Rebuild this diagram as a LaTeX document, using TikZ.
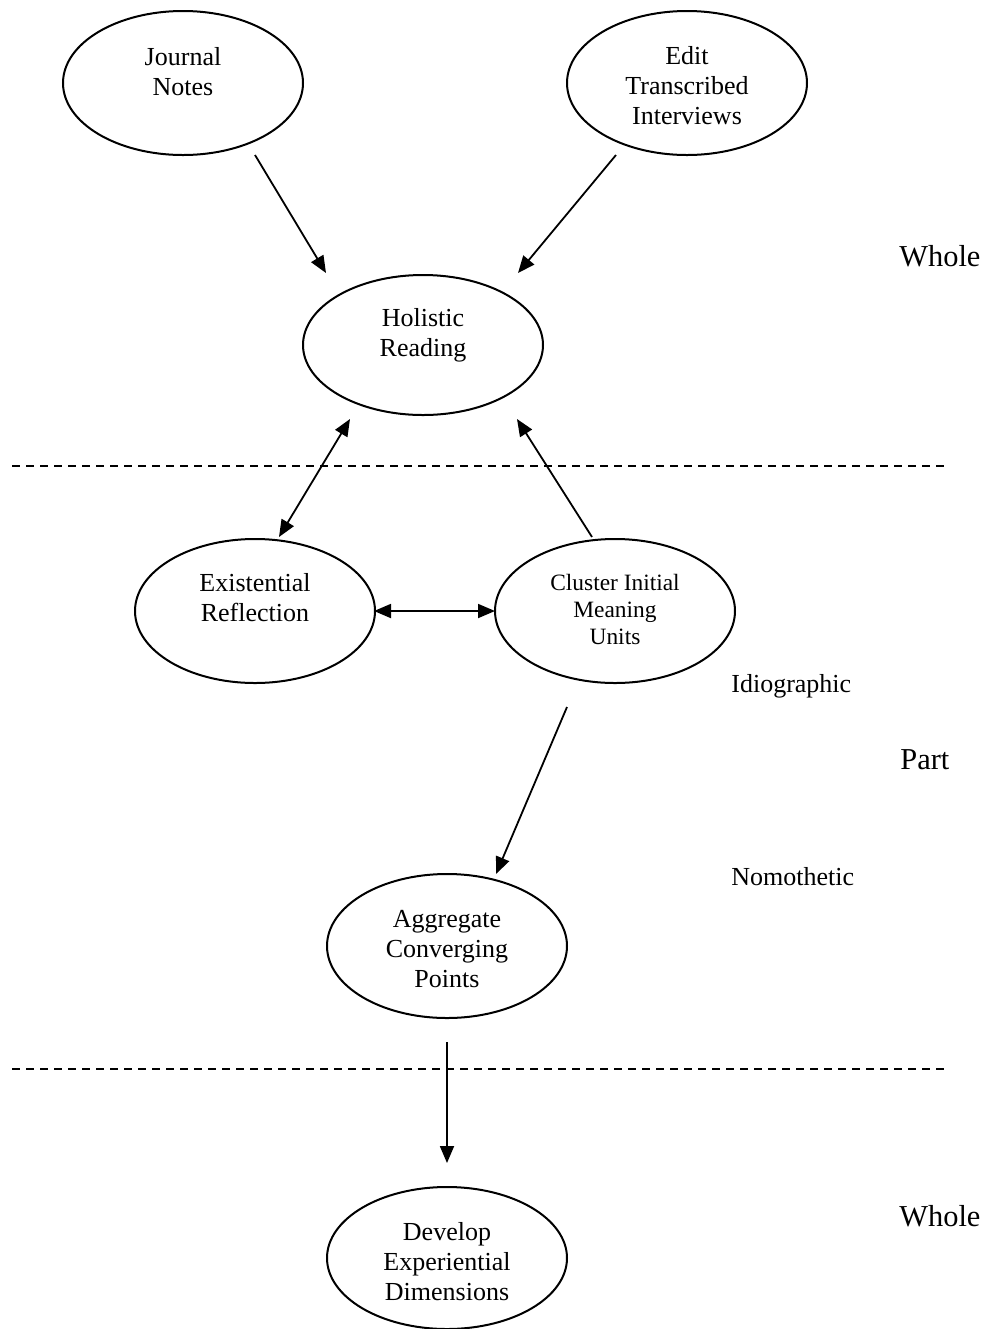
\documentclass[tikz,border=0pt]{standalone}
\usepackage{fontspec}
\setmainfont{Liberation Serif}
\usetikzlibrary{shapes.geometric,arrows.meta}
\begin{document}
\begin{tikzpicture}[x=0.5pt,y=-0.5pt,
  bub/.style={draw,ellipse,line width=1pt,minimum width=120pt,minimum height=72pt,inner sep=0pt},
  txt/.style={align=center,font=\fontsize{13}{15}\selectfont,inner sep=0pt},
  smalltxt/.style={align=center,font=\fontsize{11.7}{13.5}\selectfont,inner sep=0pt},
  con/.style={line width=0.9pt,-{Triangle[length=8.5pt,width=7pt]}},
  dcon/.style={line width=0.9pt,{Triangle[length=8.5pt,width=7pt]}-{Triangle[length=8.5pt,width=7pt]}},
  sepline/.style={line width=0.8pt,dash pattern=on 4pt off 3pt},
  side/.style={font=\fontsize{13}{15}\selectfont,anchor=west,inner sep=0pt},
  bigside/.style={font=\fontsize{15.2}{18}\selectfont,anchor=west,inner sep=0pt}]
\useasboundingbox (0,0) rectangle (990,1329);

% ellipses
\node[bub] (jn) at (183,83) {};
\node[bub] (et) at (687,83) {};
\node[bub,minimum height=70pt] (hr) at (423,345) {};
\node[bub] (er) at (255,611) {};
\node[bub] (cm) at (615,611) {};
\node[bub] (ac) at (447,946) {};
\node[bub,minimum height=71pt] (de) at (447,1258) {};

% texts
\node[txt] (jnt) at (183,72) {Journal\\Notes};
\node[txt] (ett) at (687,86) {Edit\\Transcribed\\Interviews};
\node[txt] (hrt) at (423,335) {Holistic\\Reading};
\node[txt] (ert) at (255,598) {Existential\\Reflection};
\node[smalltxt] (cmt) at (615,609) {Cluster Initial\\Meaning\\Units};
\node[txt] (act) at (447,949) {Aggregate\\Converging\\Points};
\node[txt] (det) at (447,1262) {Develop\\Experiential\\Dimensions};

% side labels
\node[bigside] (w1) at (899,256) {Whole};
\node[side] (idg) at (731,686) {Idiographic};
\node[bigside] (pt) at (900,760) {Part};
\node[side] (nom) at (731,877) {Nomothetic};
\node[bigside] (w2) at (899,1216) {Whole};

% dashed separators
\draw[sepline] (12,466) -- (945,466);
\draw[sepline] (12,1069) -- (945,1069);

% connector end points
\coordinate (a1s) at (255,155);
\coordinate (a1e) at (326,273);
\coordinate (a2s) at (616,155);
\coordinate (a2e) at (518,273);
\coordinate (a3s) at (350,419);
\coordinate (a3e) at (279,537);
\coordinate (a4s) at (592,537);
\coordinate (a4e) at (517,419);
\coordinate (a5s) at (374,611);
\coordinate (a5e) at (495,611);
\coordinate (a6s) at (567,707);
\coordinate (a6e) at (496,874);
\coordinate (a7s) at (447,1042);
\coordinate (a7e) at (447,1163);

\draw[con] (a1s) -- (a1e);
\draw[con] (a2s) -- (a2e);
\draw[dcon] (a3s) -- (a3e);
\draw[con] (a4s) -- (a4e);
\draw[dcon] (a5s) -- (a5e);
\draw[con] (a6s) -- (a6e);
\draw[con] (a7s) -- (a7e);
\end{tikzpicture}
\end{document}
